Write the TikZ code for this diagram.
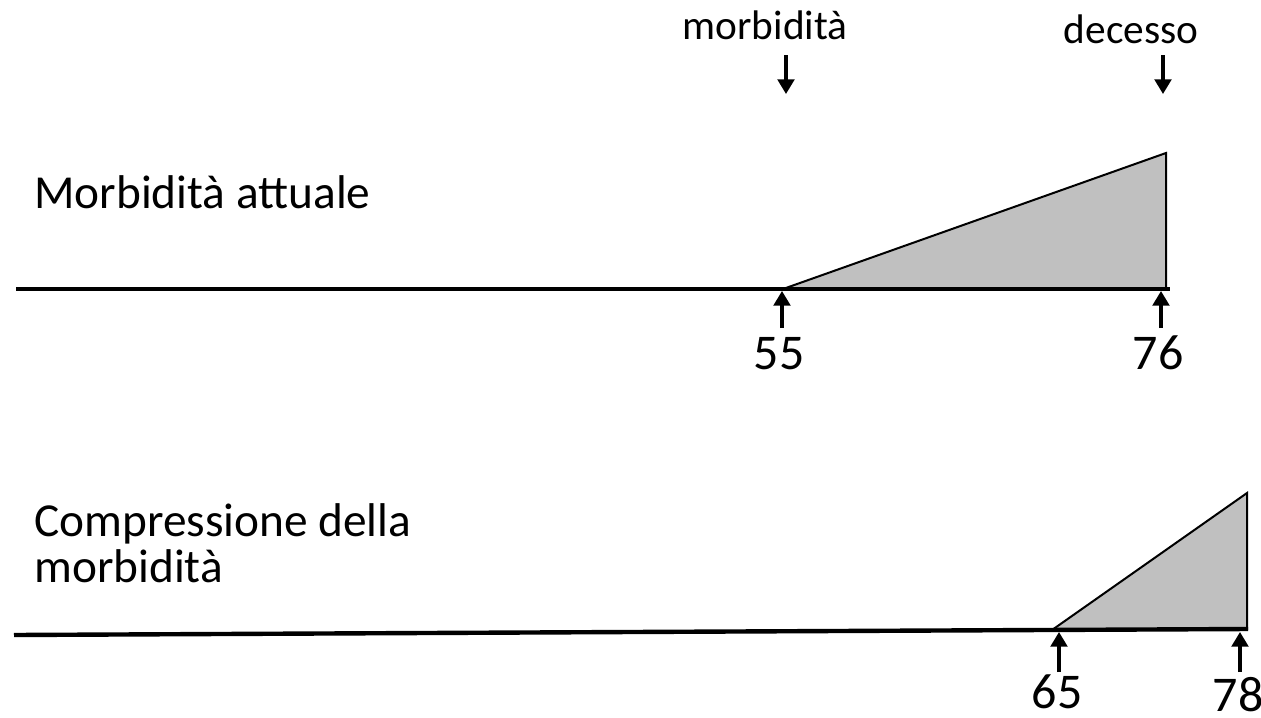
\documentclass[tikz,border=0pt]{standalone}
\usepackage{fontspec}
\setmainfont{Carlito}
\usetikzlibrary{arrows.meta}
\definecolor{zonegray}{HTML}{C0C0C0}
\begin{document}
\begin{tikzpicture}[x=0.75pt,y=-0.75pt,
  axis/.style={line width=3.3pt},
  zone/.style={fill=zonegray, draw=black, line width=1.5pt, line join=miter},
  tick/.style={-{Triangle[length=11pt,width=12.5pt]}, line width=2.4pt},
  title/.style={font=\fontsize{35.5}{34}\selectfont, inner sep=0pt, align=left},
  event/.style={font=\fontsize{31}{36}\selectfont, inner sep=0pt},
  age/.style={font=\fontsize{37.5}{40}\selectfont, inner sep=0pt}]
\useasboundingbox (0,0) rectangle (1261,718);

% ---- current morbidity timeline ----
\node[title, anchor=base west] (cur) at (34,208) {Morbidità attuale};
\coordinate (a0) at (16,289);
\coordinate (a1) at (1170,289);
\coordinate (t1) at (783,289);
\coordinate (t2) at (1166,153);
\coordinate (t3) at (1166,289);
\draw[zone] (t1) -- (t2) -- (t3) -- cycle;
\draw[axis] (a0) -- (a1);

% event markers above
\node[event, anchor=base] (onset) at (765,39) {morbidità};
\node[event, anchor=base] (death) at (1131,43) {decesso};
\coordinate (d1s) at (786,55);
\coordinate (d1e) at (786,94);
\coordinate (d2s) at (1163,55);
\coordinate (d2e) at (1163,94);
\draw[tick] (d1s) -- (d1e);
\draw[tick] (d2s) -- (d2e);

% age markers below
\coordinate (u1s) at (782,328);
\coordinate (u1e) at (782,291);
\coordinate (u2s) at (1161,328);
\coordinate (u2e) at (1161,291);
\draw[tick] (u1s) -- (u1e);
\draw[tick] (u2s) -- (u2e);
\node[age, anchor=base] (n55) at (779,369) {55};
\node[age, anchor=base] (n76) at (1158,369) {76};

% ---- compressed morbidity timeline ----
\node[title, anchor=base west] (comp) at (34,582) {Compressione della\\morbidità};
\coordinate (b0) at (14,635);
\coordinate (b1) at (1248,629);
\coordinate (s1) at (1052,630);
\coordinate (s2) at (1247,493);
\coordinate (s3) at (1247,629);
\draw[zone] (s1) -- (s2) -- (s3) -- cycle;
\draw[axis] (b0) -- (b1);

\coordinate (v1s) at (1059,672);
\coordinate (v1e) at (1059,632);
\coordinate (v2s) at (1240,672);
\coordinate (v2e) at (1240,632);
\draw[tick] (v1s) -- (v1e);
\draw[tick] (v2s) -- (v2e);
\node[age, anchor=base] (n65) at (1057,708) {65};
\node[age, anchor=base] (n78) at (1238,711) {78};
\end{tikzpicture}
\end{document}
